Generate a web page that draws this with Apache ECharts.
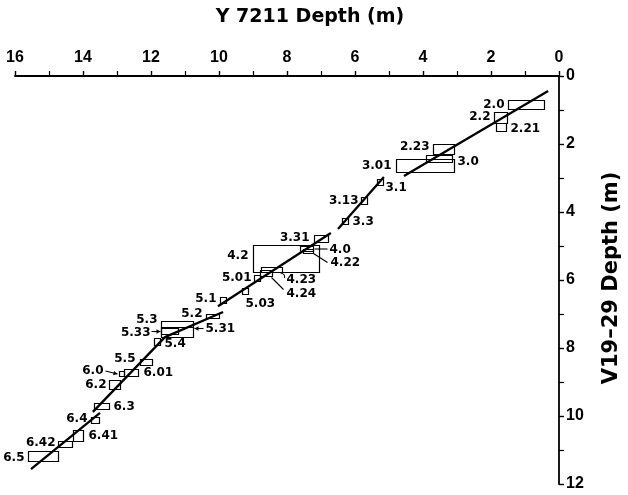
<!DOCTYPE html>
<html>
<head>
<meta charset="utf-8">
<script src="https://cdn.jsdelivr.net/npm/echarts@6/dist/echarts.min.js"></script>
<style>
  html, body { margin: 0; padding: 0; background: #fff; }
  #chart { width: 628px; height: 495px; }
</style>
</head>
<body>
<div id="chart"></div>
<script>
// Sample identifiers (correlated levels between the two cores)
const sampleLabels = ['2.0','2.2','2.21','2.23','3.0','3.01','3.1','3.13','3.3','3.31',
  '4.0','4.22','4.2','4.23','4.24','5.01','5.03','5.1','5.2','5.3','5.31','5.33','5.4',
  '5.5','6.0','6.01','6.2','6.3','6.4','6.41','6.42','6.5'];

// Depth range in core Y 7211 (m)
const y7211From = [0.44,1.53,1.56,3.09,3.16,3.10,5.18,5.65,6.20,6.79,
  7.24,7.23,7.05,8.16,8.44,8.80,9.15,9.79,10.00,10.76,10.76,11.21,11.74,
  11.96,12.79,12.37,12.91,13.23,13.53,13.99,14.33,14.73];
const y7211To = [1.51,1.91,1.85,3.71,3.91,4.78,5.36,5.83,6.38,7.21,
  7.62,7.52,8.99,8.76,8.79,8.98,9.33,9.97,10.38,11.71,11.71,11.71,11.92,
  12.32,12.93,12.79,13.23,13.67,13.77,14.30,14.73,15.63];

// Depth range in core V19-29 (m)
const v1929From = [0.71,1.06,1.38,2.01,2.32,2.45,3.03,3.57,4.18,4.68,
  5.00,5.09,4.97,5.62,5.71,5.85,6.24,6.51,7.00,7.20,7.37,7.40,7.72,
  8.32,8.69,8.62,8.94,9.63,10.04,10.41,10.74,11.03];
const v1929To = [0.97,1.38,1.62,2.30,2.52,2.82,3.21,3.75,4.36,4.87,
  5.15,5.21,5.77,5.76,5.88,6.03,6.42,6.69,7.12,7.37,7.69,7.60,7.90,
  8.50,8.83,8.81,9.21,9.80,10.21,10.73,10.92,11.32];

// Depth-correlation line, drawn as separate segments [Y 7211, V19-29]
const corrSegA = [[0.32,0.44],[4.56,2.94]];
const corrSegB = [[5.15,2.97],[6.50,4.50]];
const corrSegC = [[6.71,4.62],[10.03,6.77]];
const corrSegD = [[9.88,6.94],[11.59,7.68],[13.71,9.88]];
const corrSegE = [[13.50,9.91],[15.53,11.56]];

// Axis tick values
const xTicks = [0,2,4,6,8,10,12,14,16];
const yTicks = [0,2,4,6,8,10,12];

// Label placement (pixel styling): side of the box, gap, vertical shift,
// optional leader line / arrow given relative to the anchor point.
const labelStyle = {
  '2.0':  {side:'left',  gap:4,  dy:0},
  '2.2':  {side:'left',  gap:4,  dy:-1},
  '2.21': {side:'right', gap:4,  dy:1},
  '2.23': {side:'left',  gap:4,  dy:-3},
  '3.0':  {side:'right', gap:5,  dy:3},
  '3.01': {side:'left',  gap:5,  dy:0},
  '3.1':  {side:'right', gap:2,  dy:5},
  '3.13': {side:'left',  gap:3,  dy:0},
  '3.3':  {side:'right', gap:4,  dy:0},
  '3.31': {side:'left',  gap:5,  dy:-1},
  '4.0':  {side:'right', gap:16, dy:0.5, lead:[[1,0],[14,0]]},
  '4.22': {side:'right', gap:17, dy:11,  lead:[[0,2],[14,11]]},
  '4.2':  {side:'left',  gap:5,  dy:-3},
  '4.23': {side:'right', gap:4,  dy:9.5, hook:[[-2,3],[3,4],[2,8]]},
  '4.24': {side:'right', gap:14, dy:20,  lead:[[-1,4],[11,16]]},
  '5.01': {side:'left',  gap:3,  dy:-1},
  '5.03': {side:'below', gap:3,  dx:0},
  '5.1':  {side:'left',  gap:4,  dy:-2},
  '5.2':  {side:'left',  gap:4,  dy:-3},
  '5.3':  {side:'left',  gap:4,  dy:-5},
  '5.31': {side:'right', gap:12, dy:-4,  arrow:[[10,-4],[1,-4]]},
  '5.33': {side:'left',  gap:11, dy:1,   arrow:[[-10,0],[-1,0]]},
  '5.4':  {side:'right', gap:4,  dy:2},
  '5.5':  {side:'left',  gap:5,  dy:-4},
  '6.0':  {side:'left',  gap:16, dy:-3,  arrow:[[-14,-3],[-2,0]]},
  '6.01': {side:'right', gap:5,  dy:0},
  '6.2':  {side:'left',  gap:3,  dy:0},
  '6.3':  {side:'right', gap:4,  dy:0},
  '6.4':  {side:'left',  gap:4,  dy:-2},
  '6.41': {side:'right', gap:5,  dy:0},
  '6.42': {side:'left',  gap:3,  dy:-2},
  '6.5':  {side:'left',  gap:4,  dy:1}
};

const LABEL_FONT = 'bold 12px "DejaVu Sans"';
const TITLE_FONT = 'bold 19px "DejaVu Sans"';
const SIDE_TITLE_FONT = 'bold 21px "DejaVu Sans"';

const boxData = sampleLabels.map((s, i) =>
  [y7211From[i], y7211To[i], v1929From[i], v1929To[i], i]);

function arrowHead(from, to) {
  const ang = Math.atan2(to[1] - from[1], to[0] - from[0]);
  const L = 4, W = 2.2;
  const bx = to[0] - L * Math.cos(ang), by = to[1] - L * Math.sin(ang);
  const nx = -Math.sin(ang) * W, ny = Math.cos(ang) * W;
  return {
    type: 'polygon',
    shape: {points: [to, [bx + nx, by + ny], [bx - nx, by - ny]]},
    style: {fill: '#000'}
  };
}

function renderBox(params, api) {
  const idx = api.value(4);
  const name = sampleLabels[idx];
  const a = api.coord([api.value(0), api.value(2)]);
  const b = api.coord([api.value(1), api.value(3)]);
  const left = Math.round(Math.min(a[0], b[0])) + 0.5;
  const right = Math.round(Math.max(a[0], b[0])) + 0.5;
  const top = Math.round(Math.min(a[1], b[1])) + 0.5;
  const bottom = Math.round(Math.max(a[1], b[1])) + 0.5;
  const midY = (top + bottom) / 2;
  const midX = (left + right) / 2;
  const st = labelStyle[name];
  const children = [{
    type: 'rect',
    shape: {x: left, y: top, width: right - left, height: bottom - top},
    style: {fill: 'none', stroke: '#000', lineWidth: 1.2}
  }];
  let anchor, tx, ty, align, vAlign = 'middle';
  if (st.side === 'left') {
    anchor = [left, midY]; tx = left - st.gap; ty = midY + st.dy; align = 'right';
  } else if (st.side === 'right') {
    anchor = [right, midY]; tx = right + st.gap; ty = midY + st.dy; align = 'left';
  } else {
    anchor = [midX, bottom]; tx = midX + (st.dx || 0); ty = bottom + st.gap; align = 'left'; vAlign = 'top';
  }
  children.push({
    type: 'text',
    style: {text: name, x: tx, y: ty, font: LABEL_FONT, fill: '#000', align: align, verticalAlign: vAlign}
  });
  const rel = p => [anchor[0] + p[0], anchor[1] + p[1]];
  if (st.lead) {
    const p = st.lead.map(rel);
    children.push({type: 'polyline', shape: {points: p}, style: {stroke: '#000', lineWidth: 1.1, fill: 'none'}});
  }
  if (st.hook) {
    const p = st.hook.map(rel);
    children.push({type: 'bezierCurve',
      shape: {x1: p[0][0], y1: p[0][1], cpx1: p[1][0], cpy1: p[1][1], x2: p[2][0], y2: p[2][1]},
      style: {stroke: '#000', lineWidth: 1.1, fill: 'none'}});
  }
  if (st.arrow) {
    const p = st.arrow.map(rel);
    children.push({type: 'line', shape: {x1: p[0][0], y1: p[0][1], x2: p[1][0], y2: p[1][1]},
      style: {stroke: '#000', lineWidth: 1.1}});
    children.push(arrowHead(p[0], p[1]));
  }
  return {type: 'group', children: children};
}

function segSeries(data) {
  return {
    type: 'line', data: data, symbol: 'none', silent: true, z: 3,
    lineStyle: {color: '#000', width: 2.3}
  };
}

const chart = echarts.init(document.getElementById('chart'), null, {renderer: 'canvas'});
chart.setOption({
  animation: false,
  backgroundColor: '#fff',
  grid: {left: 15, right: 69, top: 76, bottom: 11, containLabel: false},
  xAxis: {
    type: 'value', position: 'top', inverse: true,
    min: xTicks[0], max: xTicks[xTicks.length - 1], interval: 2,
    axisLine: {show: true, onZero: false, lineStyle: {color: '#000', width: 1.8}},
    axisTick: {show: true, inside: false, length: 5, lineStyle: {color: '#000', width: 1.4}},
    minorTick: {show: true, splitNumber: 2, length: 5, lineStyle: {color: '#000', width: 1.2}},
    axisLabel: {show: true, margin: 10, color: '#000', fontFamily: 'Liberation Sans', fontWeight: 'bold', fontSize: 16},
    splitLine: {show: false}
  },
  yAxis: {
    type: 'value', position: 'right', inverse: true,
    min: yTicks[0], max: yTicks[yTicks.length - 1], interval: 2,
    axisLine: {show: true, onZero: false, lineStyle: {color: '#000', width: 1.8}},
    axisTick: {show: true, inside: false, length: 5, lineStyle: {color: '#000', width: 1.4}},
    minorTick: {show: true, splitNumber: 2, length: 5, lineStyle: {color: '#000', width: 1.2}},
    axisLabel: {show: true, margin: 7, color: '#000', fontFamily: 'Liberation Sans', fontWeight: 'bold', fontSize: 16},
    splitLine: {show: false}
  },
  graphic: [
    {type: 'text', x: 310, y: 17,
     style: {text: 'Y 7211 Depth (m)', font: TITLE_FONT, fill: '#000', align: 'center', verticalAlign: 'middle'}},
    {type: 'text', x: 612, y: 278, rotation: Math.PI / 2,
     style: {text: 'V19–29 Depth (m)', font: SIDE_TITLE_FONT, fill: '#000', align: 'center', verticalAlign: 'middle'}}
  ],
  series: [
    segSeries(corrSegA), segSeries(corrSegB), segSeries(corrSegC),
    segSeries(corrSegD), segSeries(corrSegE),
    {
      type: 'custom', renderItem: renderBox, data: boxData, z: 4, silent: true,
      encode: {x: [0, 1], y: [2, 3]}
    }
  ]
});
</script>
</body>
</html>
